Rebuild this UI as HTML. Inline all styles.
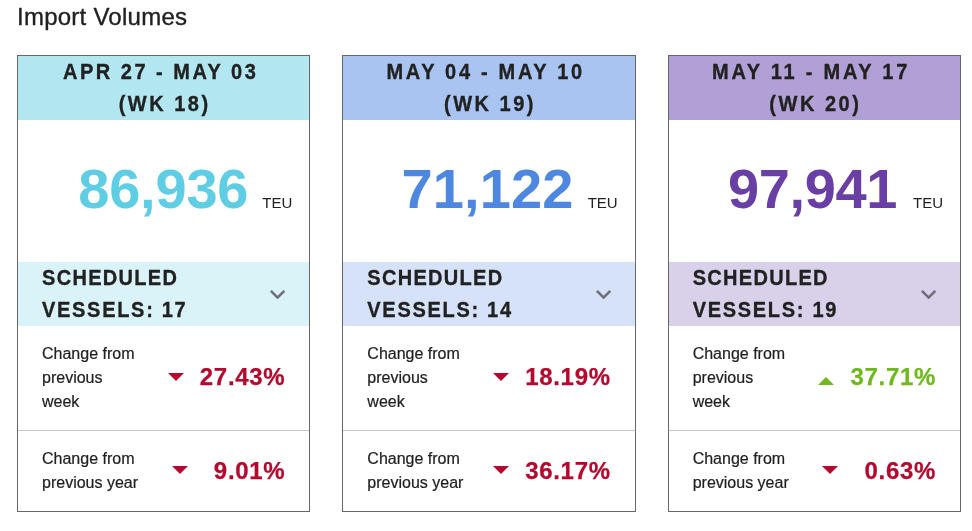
<!DOCTYPE html>
<html lang="en">
<head>
<meta charset="utf-8">
<title>Import Volumes</title>
<style>
*{box-sizing:border-box;margin:0;padding:0}
html,body{width:972px;height:531px;background:#fff;overflow:hidden}
body{font-family:"Liberation Sans",sans-serif;color:#212121;position:relative}
h1{position:absolute;left:17px;top:3px;font-size:24px;letter-spacing:0.25px;font-weight:400;line-height:28px;color:#212121;white-space:nowrap;-webkit-text-stroke:0.35px #212121}
.cards{position:absolute;left:17px;top:55px;width:944px;height:457px;display:flex;gap:32px}
.card{flex:1 1 0;position:relative;border:1px solid #666;background:#fff;height:457px}
.hd{height:64px;text-align:center;font-weight:700;font-size:20px;line-height:32px;letter-spacing:2.5px;color:#212121;white-space:nowrap}
.hd span,.sv span{display:block;position:relative;-webkit-text-stroke:0.3px #212121;transform:scaleY(1.07);transform-origin:0 23px}
.l1{left:-3px}
.l2{left:1px}
.s1{letter-spacing:1.3px}
.s2{letter-spacing:1.7px}
.num{position:absolute;left:0;top:0;width:100%;height:100%}
.big{position:absolute;top:101px;font-size:56px;line-height:64px;font-weight:700;white-space:nowrap;right:61px;letter-spacing:-0.4px}
.teu{position:absolute;top:137px;right:17px;font-size:15px;line-height:20px;color:#212121}
.sv{position:absolute;left:0;right:0;top:206px;height:64px;padding-left:24px;font-weight:700;font-size:20px;line-height:32px;letter-spacing:2px;color:#212121;white-space:nowrap}
.sv svg{position:absolute;right:23.9px;top:27.7px}
.row{position:absolute;left:0;right:0;padding:16px 24px;font-size:16px;line-height:24px;color:#212121;-webkit-text-stroke:0.2px #212121}
.row .val{-webkit-text-stroke:0.25px currentColor}
.r1{top:270px;height:104px}
.r2{top:374px;height:81px;border-top:1px solid #c6c6c6}
.val{position:absolute;right:24.6px;font-size:24px;line-height:32px;font-weight:700;white-space:nowrap;letter-spacing:0.7px;margin-right:-0.7px}
.r1 .val{top:35.4px}
.r2 .val{top:24.4px}
.tri{position:absolute;width:0;height:0;border-left:8px solid transparent;border-right:8px solid transparent}
.dn{border-top:8px solid #b5082e}
.up{border-bottom:8px solid #70b81d}
.red{color:#b5082e}
.grn{color:#70b81d}
.c1 .hd{background:#b2e6f1}.c1 .big{color:#5fcde4;letter-spacing:-0.2px}.c1 .sv{background:#daf3f9}
.c2 .hd{background:#a9c4f1}.c2 .l1{letter-spacing:2.7px;left:-3.3px}.c2 .big{color:#4d87e0;letter-spacing:0.15px}.c2 .sv{background:#d6e2f8}
.c3 .hd{background:#b1a0d5}.c3 .l1{letter-spacing:2.75px;left:-3.3px}.c3 .big{color:#6a3fa5;right:63px}.c3 .sv{background:#d9d0ea}
</style>
</head>
<body>
<h1>Import Volumes</h1>
<div class="cards">
  <div class="card c1">
    <div class="hd"><span class="l1">APR 27 - MAY 03</span><span class="l2">(WK 18)</span></div>
    <div class="big">86,936</div><div class="teu">TEU</div>
    <div class="sv"><span class="s1">SCHEDULED</span><span class="s2">VESSELS: 17</span><svg width="15.2" height="9.4" viewBox="6 8.59 12 7.41" preserveAspectRatio="none"><path d="M16.59 8.59L12 13.17 7.41 8.59 6 10l6 6 6-6z" fill="#6f6e7a"/></svg></div>
    <div class="row r1">Change from<br>previous<br>week<i class="tri dn" style="left:149.5px;top:46.6px"></i><span class="val red">27.43%</span></div>
    <div class="row r2">Change from<br>previous year<i class="tri dn" style="left:153.6px;top:34.6px"></i><span class="val red">9.01%</span></div>
  </div>
  <div class="card c2">
    <div class="hd"><span class="l1">MAY 04 - MAY 10</span><span class="l2">(WK 19)</span></div>
    <div class="big">71,122</div><div class="teu">TEU</div>
    <div class="sv"><span class="s1">SCHEDULED</span><span class="s2">VESSELS: 14</span><svg width="15.2" height="9.4" viewBox="6 8.59 12 7.41" preserveAspectRatio="none"><path d="M16.59 8.59L12 13.17 7.41 8.59 6 10l6 6 6-6z" fill="#6f6e7a"/></svg></div>
    <div class="row r1">Change from<br>previous<br>week<i class="tri dn" style="left:149.5px;top:46.6px"></i><span class="val red">18.19%</span></div>
    <div class="row r2">Change from<br>previous year<i class="tri dn" style="left:149.5px;top:34.6px"></i><span class="val red">36.17%</span></div>
  </div>
  <div class="card c3">
    <div class="hd"><span class="l1">MAY 11 - MAY 17</span><span class="l2">(WK 20)</span></div>
    <div class="big">97,941</div><div class="teu">TEU</div>
    <div class="sv"><span class="s1">SCHEDULED</span><span class="s2">VESSELS: 19</span><svg width="15.2" height="9.4" viewBox="6 8.59 12 7.41" preserveAspectRatio="none"><path d="M16.59 8.59L12 13.17 7.41 8.59 6 10l6 6 6-6z" fill="#6f6e7a"/></svg></div>
    <div class="row r1">Change from<br>previous<br>week<i class="tri up" style="left:149.5px;top:51.2px"></i><span class="val grn">37.71%</span></div>
    <div class="row r2">Change from<br>previous year<i class="tri dn" style="left:153.6px;top:34.6px"></i><span class="val red">0.63%</span></div>
  </div>
</div>
</body>
</html>
